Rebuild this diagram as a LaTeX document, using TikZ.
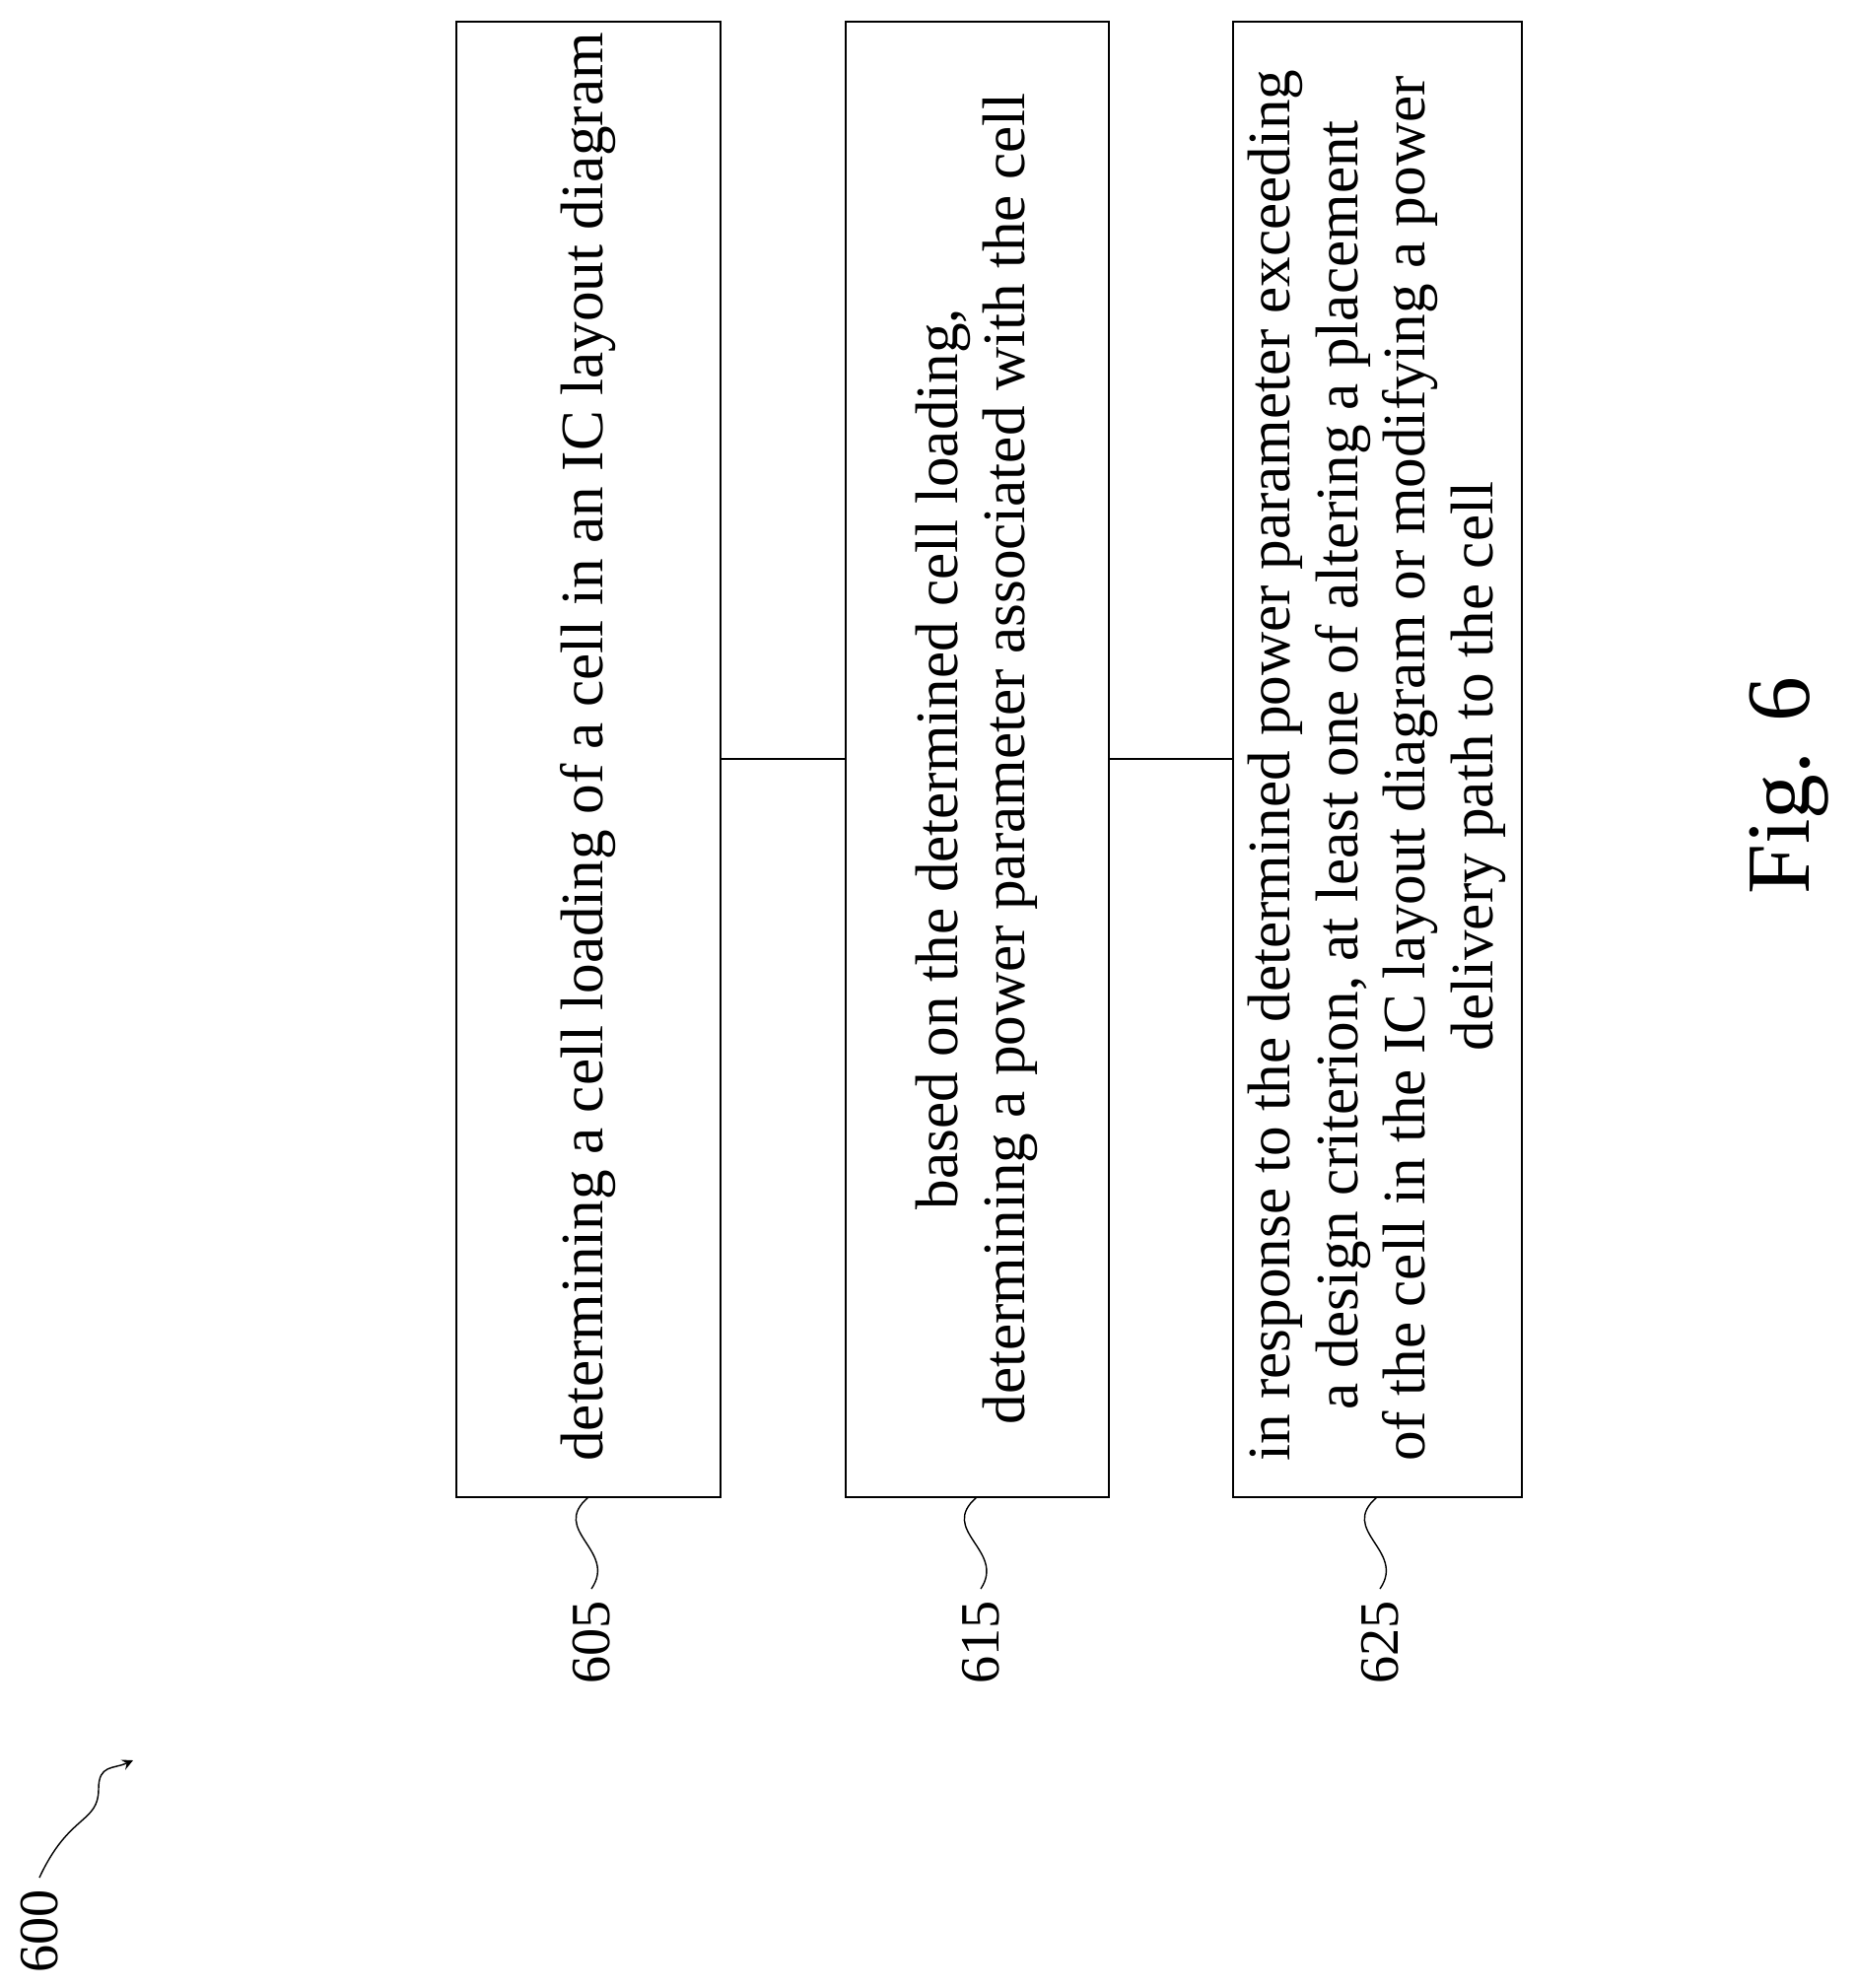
\documentclass[tikz,border=0pt]{standalone}
\usepackage{fontspec}
\setmainfont{Liberation Serif}
\usetikzlibrary{positioning}

\tikzset{
  stepbox/.style={draw, thin},
  steptext/.style={rotate=90, font=\fontsize{17.4}{19.5}\selectfont},
  reflabel/.style={rotate=90, font=\fontsize{16}{19}\selectfont},
}

\begin{document}
\begin{tikzpicture}[x=0.01cm, y=-0.01cm]
  \useasboundingbox (0,0) rectangle (1885,2017);

  % Boxes
  \draw[stepbox] (463,22) rectangle (731,1519);
  \draw[stepbox] (858,22) rectangle (1125,1519);
  \draw[stepbox] (1251,22) rectangle (1544,1519);
  \coordinate (b1s) at (597,1519);
  \coordinate (b2s) at (991,1519);
  \coordinate (b3s) at (1397,1519);

  % Connectors
  \coordinate (c1a) at (731,770);
  \coordinate (c1b) at (858,770);
  \coordinate (c2a) at (1125,770);
  \coordinate (c2b) at (1251,770);
  \draw (c1a) -- (c1b);
  \draw (c2a) -- (c2b);

  % Step texts
  \node[steptext, anchor=west] (t605) at (597,1495)
    {determining a cell loading of a cell in an IC layout diagram};
  \node[steptext, align=center] (t615) at (991,770)
    {based on the determined cell loading,\\determining a power parameter associated with the cell};
  \node[steptext, anchor=west, align=left] (t625) at (1397,1495)
    {in response to the determined power parameter exceeding\\
     \hspace*{0.85em}a design criterion, at least one of altering a placement\\
     of the cell in the IC layout diagram or modifying a power\\
     \hspace*{6.8em}delivery path to the cell};

  % Reference labels
  \node[reflabel, anchor=east] (l605) at (600,1612) {605};
  \node[reflabel, anchor=east] (l615) at (995,1612) {615};
  \node[reflabel, anchor=east] (l625) at (1400,1612) {625};
  \foreach \b/\l in {b1s/l605, b2s/l615, b3s/l625}
    \draw (\b) .. controls ([shift={(-40,34)}]\b) and ([shift={(30,54)}]\b) .. (\l.east);

  % Figure number
  \node[rotate=90, font=\fontsize{26}{31}\selectfont] (fig) at (1815,797) {Fig. 6};

  % Overall reference
  \node[reflabel, anchor=east] (l600) at (40,1905) {600};
  \coordinate (a600) at (135,1786);
  \draw[->, >=stealth] (l600.east) .. controls (70,1840) and (100,1850) .. (100,1815)
    .. controls (100,1790) and (115,1795) .. (a600);
\end{tikzpicture}
\end{document}
